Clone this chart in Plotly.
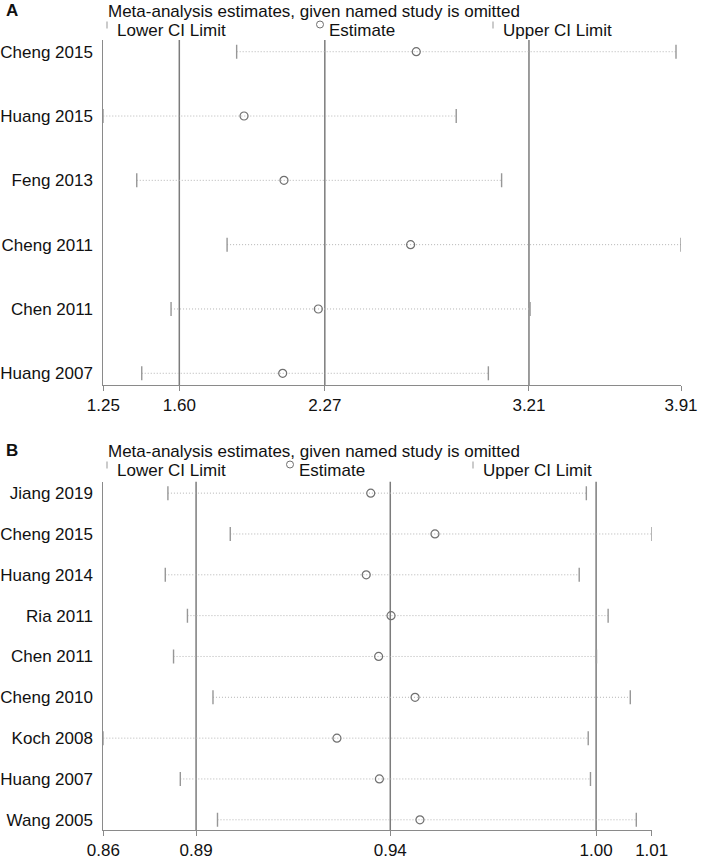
import plotly.graph_objects as go

# Panel A: leave-one-out estimates
studies_a = ["Cheng 2015", "Huang 2015", "Feng 2013", "Cheng 2011", "Chen 2011", "Huang 2007"]
lower_a = [1.864, 1.25, 1.404, 1.820, 1.562, 1.427]
estimate_a = [2.691, 1.898, 2.082, 2.665, 2.240, 2.076]
upper_a = [3.887, 2.875, 3.084, 3.91, 3.215, 3.023]
overall_a = [1.60, 2.27, 3.21]  # pooled lower CI, estimate, upper CI

# Panel B
studies_b = ["Jiang 2019", "Cheng 2015", "Huang 2014", "Ria 2011", "Chen 2011",
             "Cheng 2010", "Koch 2008", "Huang 2007", "Wang 2005"]
lower_b = [0.8816, 0.8982, 0.8809, 0.8868, 0.8831, 0.8936, 0.8644, 0.8849, 0.8948]
estimate_b = [0.9356, 0.9527, 0.9344, 0.9410, 0.9377, 0.9474, 0.9266, 0.9379, 0.9487]
upper_b = [0.9930, 1.0104, 0.9911, 0.9988, 0.9957, 1.0047, 0.9935, 0.9941, 1.0063]
overall_b = [0.8891, 0.9408, 0.9956]

title_text = "Meta-analysis estimates, given named study is omitted"
legend_labels = ["Lower CI Limit", "Estimate", "Upper CI Limit"]

W, H = 702, 859
FONT = "Liberation Sans, Arial, sans-serif"
AXIS_COL = "#8a8a8a"
REF_COL = "#7c7c7c"
DOT_COL = "#b4b4b4"
CAP_COL = "#979797"
EST_COL = "#707070"


def px(x):
    return x / W


def py(y):
    return 1 - y / H


fig = go.Figure()


def add_panel(n, label, studies, lower, est, upper, overall,
              top, bottom, right, pad_top, pad_bot, header_y, legend_x):
    xa = "x" if n == 1 else "x%d" % n
    ya = "y" if n == 1 else "y%d" % n

    wx, wy = [], []
    for s, lo, hi in zip(studies, lower, upper):
        wx += [lo, hi, None]
        wy += [s, s, None]
    fig.add_trace(go.Scatter(x=wx, y=wy, mode="lines", xaxis=xa, yaxis=ya,
                             line=dict(color=DOT_COL, width=1, dash="1px,2px"),
                             showlegend=False, hoverinfo="skip"))
    fig.add_trace(go.Scatter(x=lower + upper, y=studies + studies, mode="markers",
                             xaxis=xa, yaxis=ya, showlegend=False,
                             marker=dict(symbol="line-ns", size=10,
                                         line=dict(color=CAP_COL, width=1.4))))
    fig.add_trace(go.Scatter(x=est, y=studies, mode="markers", xaxis=xa, yaxis=ya,
                             showlegend=False,
                             marker=dict(symbol="circle-open", size=8, color=EST_COL,
                                         line=dict(width=1.2))))

    for v in overall:
        fig.add_shape(type="line", xref=xa, yref=ya + " domain", x0=v, x1=v,
                      y0=0, y1=1, layer="below",
                      line=dict(color=REF_COL, width=1.5))

    lo_all, hi_all = min(lower), max(upper)
    ticks = [lo_all] + list(overall) + [hi_all]
    key = "" if n == 1 else str(n)
    fig.layout["xaxis" + key] = dict(
        domain=[px(103.3), px(right)], anchor=ya, range=[lo_all, hi_all],
        automargin=False,
        showline=True, linecolor=AXIS_COL, linewidth=1, showgrid=False,
        zeroline=False, ticks="outside", ticklen=5, tickcolor=AXIS_COL,
        tickvals=ticks, ticktext=["%.2f" % t for t in ticks],
        tickfont=dict(size=17, color="#111"))
    fig.layout["yaxis" + key] = dict(
        domain=[py(bottom), py(top)], anchor=xa, type="category",
        categoryorder="array", categoryarray=studies,
        range=[len(studies) - 1 + pad_bot, -pad_top], automargin=False,
        showline=True, linecolor=AXIS_COL, linewidth=1, showgrid=False,
        zeroline=False, ticks="", ticklabelstandoff=6,
        tickfont=dict(size=17, color="#111"))

    # panel label and title
    fig.add_annotation(x=px(4), y=py(header_y - 1), xref="paper", yref="paper",
                       text="<b>%s</b>" % label, showarrow=False, xanchor="left",
                       yanchor="middle", font=dict(size=17, color="#111"))
    fig.add_annotation(x=px(106), y=py(header_y), xref="paper", yref="paper",
                       text=title_text, showarrow=False, xanchor="left",
                       yanchor="middle", font=dict(size=17, color="#111"))

    # legend row
    ly = header_y + 19
    lx_lo, lx_est, lx_hi = legend_x
    for x0 in (lx_lo, lx_hi):
        fig.add_shape(type="line", xref="paper", yref="paper",
                      x0=px(x0), x1=px(x0), y0=py(ly - 9), y1=py(ly - 2),
                      line=dict(color=CAP_COL, width=1))
    fig.add_shape(type="circle", xref="paper", yref="paper",
                  x0=px(lx_est - 3.5), x1=px(lx_est + 3.5),
                  y0=py(ly - 9.5), y1=py(ly - 2.5),
                  line=dict(color=EST_COL, width=1))
    for x0, txt in zip((lx_lo + 8, lx_est + 7, lx_hi + 8), legend_labels):
        fig.add_annotation(x=px(x0), y=py(ly), xref="paper", yref="paper",
                           text=txt, showarrow=False, xanchor="left",
                           yanchor="middle", font=dict(size=17, color="#111"))


add_panel(1, "A", studies_a, lower_a, estimate_a, upper_a, overall_a,
          top=40, bottom=385, right=681, pad_top=0.182, pad_bot=0.182,
          header_y=11.5, legend_x=(107, 320, 493))
add_panel(2, "B", studies_b, lower_b, estimate_b, upper_b, overall_b,
          top=481.7, bottom=830, right=651.7, pad_top=0.28, pad_bot=0.25,
          header_y=451.5, legend_x=(107, 290, 473))

fig.update_layout(
    width=W, height=H,
    margin=dict(l=0, r=0, t=0, b=0),
    paper_bgcolor="white", plot_bgcolor="white",
    font=dict(family=FONT, size=17, color="#111"),
    showlegend=False,
)

# the page body has a default 8px margin; drop it so the figure fills the window
fig.write_html("out.html", config={"displayModeBar": False},
               post_script="document.body.style.margin = '0px';")
